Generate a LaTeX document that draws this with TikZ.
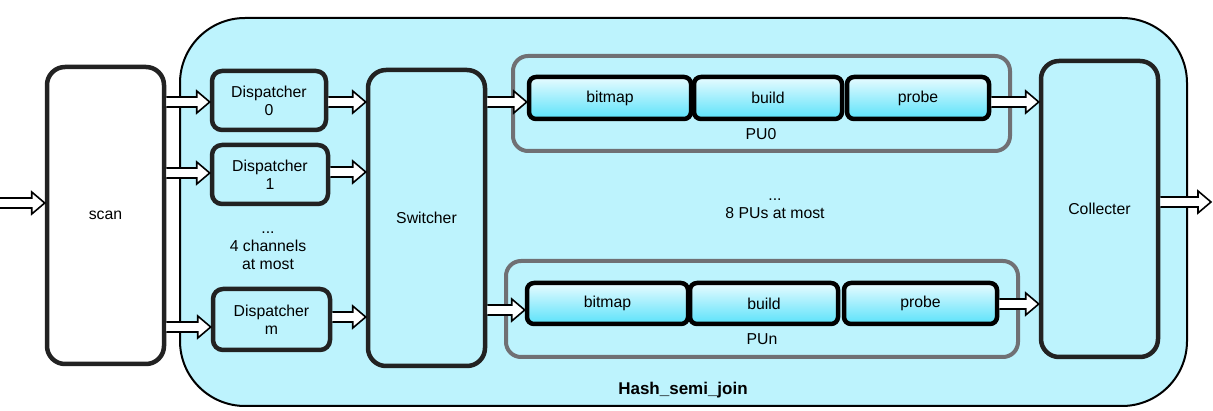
\documentclass[tikz,border=0pt]{standalone}
\usepackage{fontspec}
\setmainfont{Liberation Sans}
\usetikzlibrary{calc}
\definecolor{containerfill}{HTML}{BDF3FD}
\definecolor{boxline}{HTML}{222222}
\definecolor{pugray}{HTML}{707074}
\definecolor{stagetop}{HTML}{E8FBFF}
\definecolor{stagebot}{HTML}{5AE2FA}
\tikzset{
  container/.style={draw=black, line width=2pt, fill=containerfill, rounded corners=65pt},
  blockbox/.style={draw=boxline, line width=4.5pt, rounded corners=14pt, fill=containerfill,
    font=\fontsize{15.8}{18}\selectfont, align=center, inner sep=0pt},
  dispbox/.style={blockbox, rounded corners=10pt},
  pubox/.style={draw=pugray, line width=4pt, rounded corners=15pt, inner sep=0pt},
  stagebox/.style={draw=black, line width=4.5pt, rounded corners=7pt, top color=stagetop,
    bottom color=stagebot, font=\fontsize{15.8}{18}\selectfont, inner sep=0pt},
  plainlabel/.style={font=\fontsize{15.8}{18}\selectfont, align=center, inner sep=0pt},
  harrowstyle/.style={draw=black, line width=1.6pt, fill=white, line join=miter},
}
\newcommand\harr[2]{\draw[harrowstyle] let \p1=(#1), \p2=(#2) in
  (\x1,\y1+5pt) -- (\x2-13pt,\y1+5pt) -- (\x2-13pt,\y1+11pt) -- (\x2,\y1)
  -- (\x2-13pt,\y1-11pt) -- (\x2-13pt,\y1-5pt) -- (\x1,\y1-5pt);}
\begin{document}
\begin{tikzpicture}[x=1pt,y=-1pt]
\useasboundingbox (0,0) rectangle (1213,411);
% container
\draw[container] (180,18) rectangle (1187,406);
\node[plainlabel, font=\fontsize{17}{20}\selectfont\bfseries] (hsj) at (683,390) {Hash\_semi\_join};
% scan
\node[blockbox, fill=white, rounded corners=18pt, minimum width=117pt, minimum height=297pt] (scan) at (105.5,215.5) {scan};
% dispatchers
\node[dispbox, minimum width=114pt, minimum height=59pt] (d0) at (269,100.5) {Dispatcher\\0};
\node[dispbox, minimum width=116pt, minimum height=59pt] (d1) at (270,174.5) {Dispatcher\\1};
\node[dispbox, minimum width=117pt, minimum height=61pt] (dm) at (271.5,319.5) {Dispatcher\\m};
\node[plainlabel] (dots1) at (268,251) {...\\4 channels\\at most};
% switcher
\node[blockbox, rounded corners=18pt, minimum width=117pt, minimum height=296pt] (sw) at (426.5,218) {Switcher};
% PU0
\node[pubox, minimum width=497pt, minimum height=95pt] (pu0) at (761.5,103.5) {};
\node[stagebox, minimum width=162pt, minimum height=42pt] (bm0) at (610,98) {bitmap};
\node[stagebox, minimum width=148pt, minimum height=42pt] (bd0) at (768,98) {build};
\node[stagebox, minimum width=142pt, minimum height=42pt] (pr0) at (918,98) {probe};
\node[plainlabel] (pu0l) at (761,134) {PU0};
% PUn
\node[pubox, minimum width=512pt, minimum height=96pt] (pun) at (762,309) {};
\node[stagebox, minimum width=161pt, minimum height=41pt] (bmn) at (607.5,303.5) {bitmap};
\node[stagebox, minimum width=148pt, minimum height=41pt] (bdn) at (764,303.5) {build};
\node[stagebox, minimum width=153pt, minimum height=41pt] (prn) at (920.5,303.5) {probe};
\node[plainlabel] (punl) at (762,339) {PUn};
\node[plainlabel] (dots2) at (775,209) {...\\8 PUs at most};
% collecter
\node[blockbox, rounded corners=18pt, minimum width=117pt, minimum height=296pt] (col) at (1099.5,209) {Collecter};
% free ends
\coordinate (inp) at (-4,203);
\coordinate (outp) at (1211,202);
% arrows
\harr{inp}{scan.west |- 0,203}
\harr{scan.east |- 0,102}{d0.west |- 0,102}
\harr{scan.east |- 0,173}{d1.west |- 0,173}
\harr{scan.east |- 0,327}{dm.west |- 0,327}
\harr{d0.east |- 0,102}{sw.west |- 0,102}
\harr{d1.east |- 0,172}{sw.west |- 0,172}
\harr{dm.east |- 0,317}{sw.west |- 0,317}
\harr{sw.east |- 0,102}{bm0.west |- 0,102}
\harr{sw.east |- 0,310}{bmn.west |- 0,310}
\harr{pr0.east |- 0,102}{col.west |- 0,102}
\harr{prn.east |- 0,304}{col.west |- 0,304}
\harr{col.east |- 0,202}{outp}
\end{tikzpicture}
\end{document}
